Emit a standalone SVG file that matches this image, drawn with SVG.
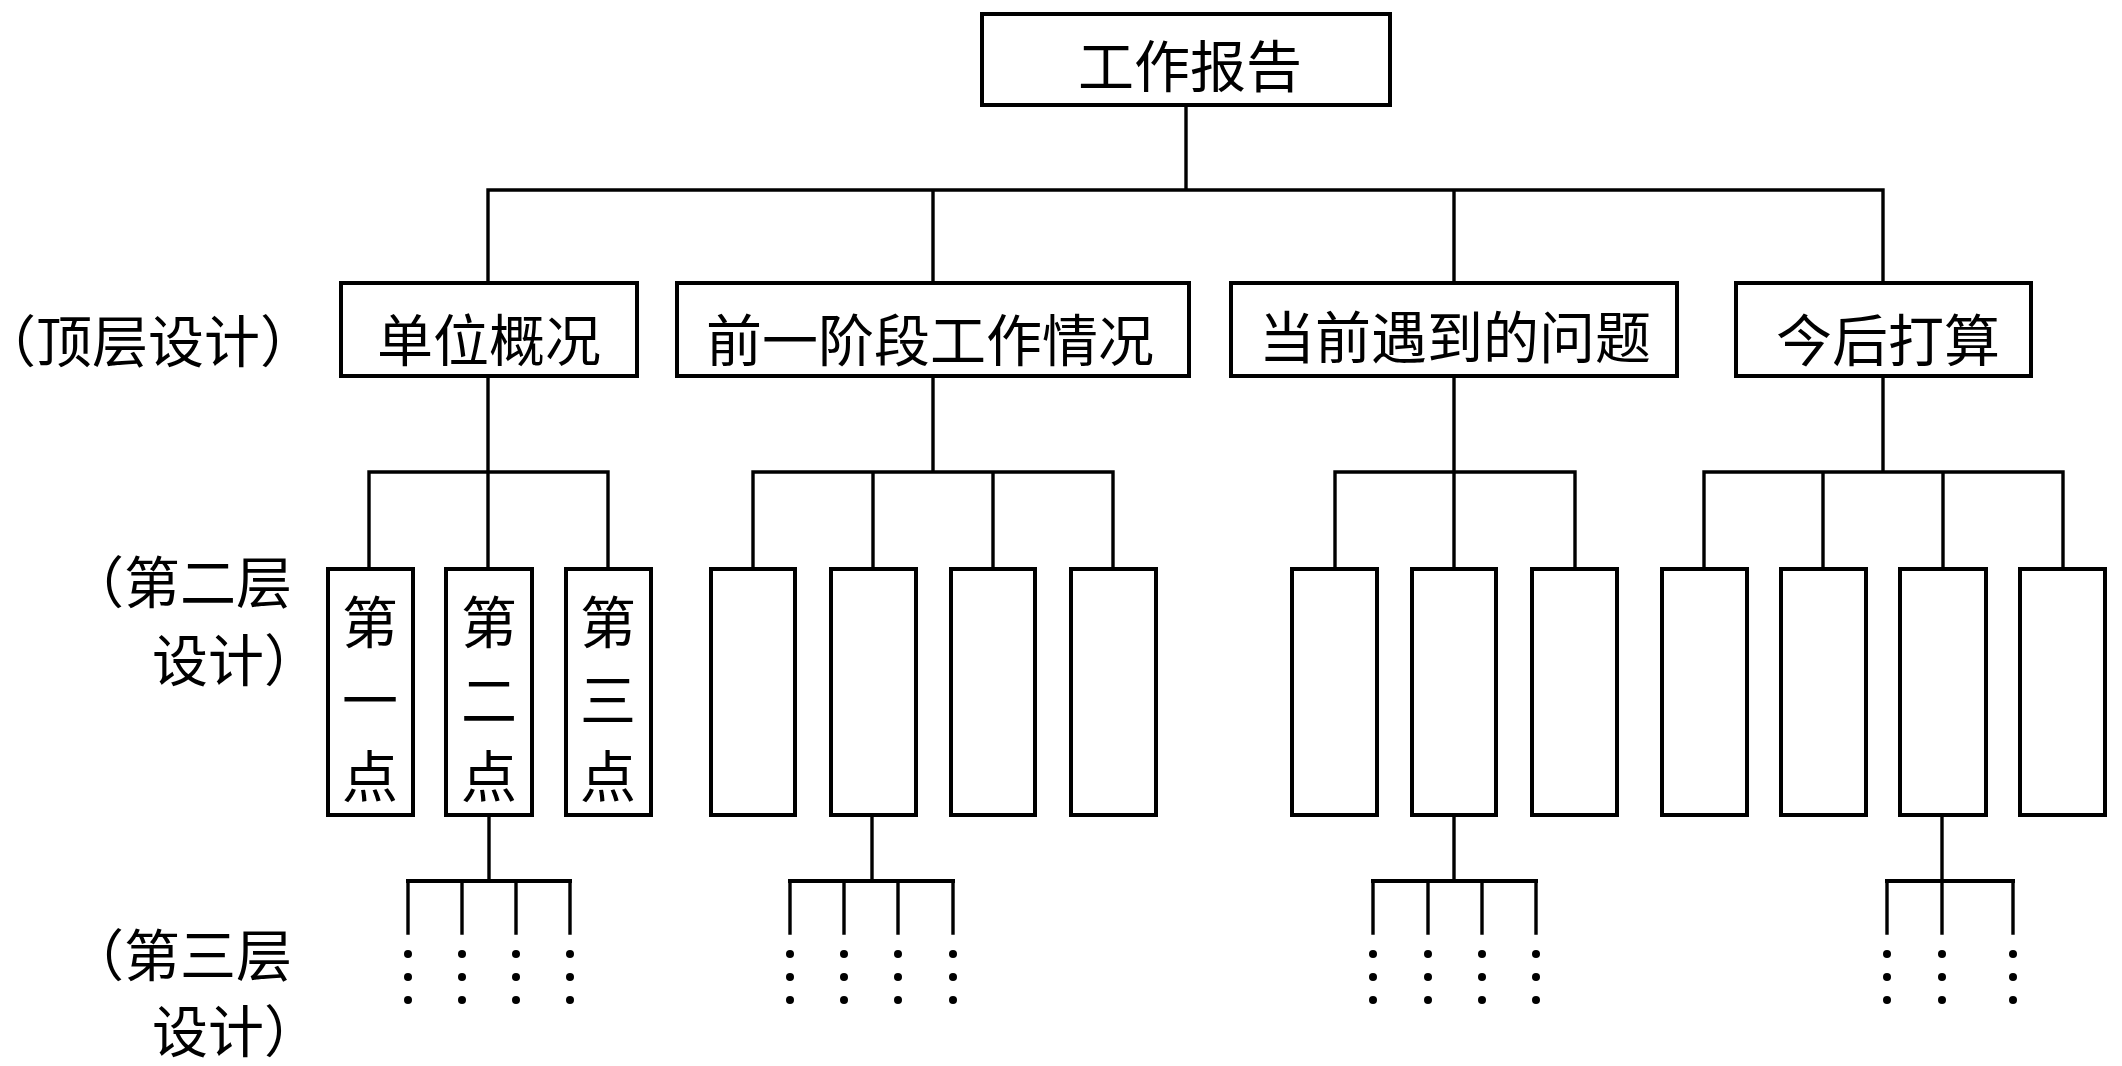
<svg xmlns="http://www.w3.org/2000/svg" width="2122" height="1066" viewBox="0 0 2122 1066">
<style>
.box{fill:#fff;stroke:#000;stroke-width:4}
.ln{fill:none;stroke:#000;stroke-width:3.4;stroke-linecap:square}
.bus3{fill:none;stroke:#000;stroke-width:4}
.t{font-family:"Noto Sans CJK SC","Noto Sans CJK TC",sans-serif;font-size:56px;fill:#000;text-anchor:middle;dominant-baseline:central}
.lbl{font-family:"Noto Sans CJK SC","Noto Sans CJK TC",sans-serif;font-size:56px;fill:#000;text-anchor:end;dominant-baseline:central;font-feature-settings:"halt" 1}
.half{font-feature-settings:"halt" 1}
.dot{fill:#000}
</style>
<rect width="2122" height="1066" fill="#fff"/>

<g id="connectors">
  <path class="ln" d="M1186,105 V190 M488,190 H1883 M488,190 V282 M933,190 V282 M1454,190 V282 M1883,190 V282"/>
  <path class="ln" d="M488,376 V472 M369,472 H608 M369,472 V568 M488,472 V568 M608,472 V568"/>
  <path class="ln" d="M933,376 V472 M753,472 H1113 M753,472 V568 M873,472 V568 M993,472 V568 M1113,472 V568"/>
  <path class="ln" d="M1454,376 V472 M1335,472 H1575 M1335,472 V568 M1454,472 V568 M1575,472 V568"/>
  <path class="ln" d="M1883,376 V472 M1704,472 H2063 M1704,472 V568 M1823,472 V568 M1943,472 V568 M2063,472 V568"/>
  <path class="ln" d="M489,815 V881 M408,881 V933 M462,881 V933 M516,881 V933 M570,881 V933"/>
  <path class="bus3" d="M406,881 H572"/>
  <path class="ln" d="M872,815 V881 M790,881 V933 M844,881 V933 M898,881 V933 M953,881 V933"/>
  <path class="bus3" d="M788,881 H955"/>
  <path class="ln" d="M1454,815 V881 M1373,881 V933 M1428,881 V933 M1482,881 V933 M1536,881 V933"/>
  <path class="bus3" d="M1371,881 H1538"/>
  <path class="ln" d="M1942,815 V881 M1887,881 V933 M1942,881 V933 M2013,881 V933"/>
  <path class="bus3" d="M1885,881 H2015"/>
</g>

<g id="dots">
  <g class="dot">
    <circle cx="408" cy="954" r="4"/><circle cx="408" cy="977" r="4"/><circle cx="408" cy="1000" r="4"/>
    <circle cx="462" cy="954" r="4"/><circle cx="462" cy="977" r="4"/><circle cx="462" cy="1000" r="4"/>
    <circle cx="516" cy="954" r="4"/><circle cx="516" cy="977" r="4"/><circle cx="516" cy="1000" r="4"/>
    <circle cx="570" cy="954" r="4"/><circle cx="570" cy="977" r="4"/><circle cx="570" cy="1000" r="4"/>

    <circle cx="790" cy="954" r="4"/><circle cx="790" cy="977" r="4"/><circle cx="790" cy="1000" r="4"/>
    <circle cx="844" cy="954" r="4"/><circle cx="844" cy="977" r="4"/><circle cx="844" cy="1000" r="4"/>
    <circle cx="898" cy="954" r="4"/><circle cx="898" cy="977" r="4"/><circle cx="898" cy="1000" r="4"/>
    <circle cx="953" cy="954" r="4"/><circle cx="953" cy="977" r="4"/><circle cx="953" cy="1000" r="4"/>

    <circle cx="1373" cy="954" r="4"/><circle cx="1373" cy="977" r="4"/><circle cx="1373" cy="1000" r="4"/>
    <circle cx="1428" cy="954" r="4"/><circle cx="1428" cy="977" r="4"/><circle cx="1428" cy="1000" r="4"/>
    <circle cx="1482" cy="954" r="4"/><circle cx="1482" cy="977" r="4"/><circle cx="1482" cy="1000" r="4"/>
    <circle cx="1536" cy="954" r="4"/><circle cx="1536" cy="977" r="4"/><circle cx="1536" cy="1000" r="4"/>

    <circle cx="1887" cy="954" r="4"/><circle cx="1887" cy="977" r="4"/><circle cx="1887" cy="1000" r="4"/>
    <circle cx="1942" cy="954" r="4"/><circle cx="1942" cy="977" r="4"/><circle cx="1942" cy="1000" r="4"/>
    <circle cx="2013" cy="954" r="4"/><circle cx="2013" cy="977" r="4"/><circle cx="2013" cy="1000" r="4"/>
  </g>
</g>

<g id="root">
  <rect class="box" x="982" y="14" width="408" height="91"/>
  <text class="t" x="1190" y="62">工作报告</text>
</g>

<g id="n-danwei">
  <rect class="box" x="341" y="283" width="296" height="93"/>
  <text class="t" x="489" y="336">单位概况</text>
</g>
<g id="n-qianyi">
  <rect class="box" x="677" y="283" width="512" height="93"/>
  <text class="t" x="930" y="336">前一阶段工作情况</text>
</g>
<g id="n-dangqian">
  <rect class="box" x="1231" y="283" width="446" height="93"/>
  <text class="t" x="1455" y="333">当前遇到的问题</text>
</g>
<g id="n-jinhou">
  <rect class="box" x="1736" y="283" width="295" height="93"/>
  <text class="t" x="1888" y="336">今后打算</text>
</g>

<g id="n-a1"><rect class="box" x="328" y="569" width="85" height="246"/>
  <text class="t" x="370" y="618">第</text><text class="t" x="370" y="696">一</text><text class="t" x="370" y="772">点</text></g>
<g id="n-a2"><rect class="box" x="446" y="569" width="86" height="246"/>
  <text class="t" x="489" y="618">第</text><text class="t" x="489" y="696">二</text><text class="t" x="489" y="772">点</text></g>
<g id="n-a3"><rect class="box" x="566" y="569" width="85" height="246"/>
  <text class="t" x="608" y="618">第</text><text class="t" x="608" y="696">三</text><text class="t" x="608" y="772">点</text></g>

<g id="n-b1"><rect class="box" x="711" y="569" width="84" height="246"/></g>
<g id="n-b2"><rect class="box" x="831" y="569" width="85" height="246"/></g>
<g id="n-b3"><rect class="box" x="951" y="569" width="84" height="246"/></g>
<g id="n-b4"><rect class="box" x="1071" y="569" width="85" height="246"/></g>

<g id="n-c1"><rect class="box" x="1292" y="569" width="85" height="246"/></g>
<g id="n-c2"><rect class="box" x="1412" y="569" width="84" height="246"/></g>
<g id="n-c3"><rect class="box" x="1532" y="569" width="85" height="246"/></g>

<g id="n-d1"><rect class="box" x="1662" y="569" width="85" height="246"/></g>
<g id="n-d2"><rect class="box" x="1781" y="569" width="85" height="246"/></g>
<g id="n-d3"><rect class="box" x="1900" y="569" width="86" height="246"/></g>
<g id="n-d4"><rect class="box" x="2020" y="569" width="85" height="246"/></g>

<g id="labels">
  <text class="t half" x="148" y="337">（顶层设计）</text>
  <text class="lbl" x="292" y="578">（第二层</text>
  <text class="lbl" x="292" y="656">设计）</text>
  <text class="lbl" x="292" y="951">（第三层</text>
  <text class="lbl" x="292" y="1027">设计）</text>
</g>
</svg>
